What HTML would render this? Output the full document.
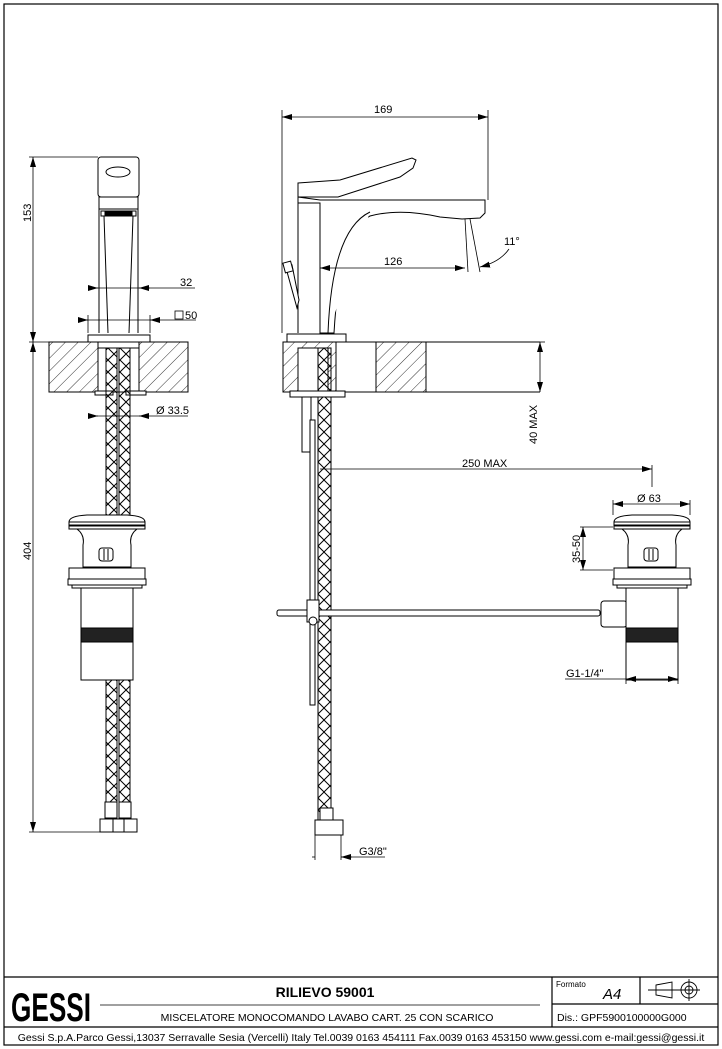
<!DOCTYPE html>
<html><head><meta charset="utf-8"><style>
html,body{margin:0;padding:0;background:#fff}
svg{display:block}
text{font-family:"Liberation Sans",sans-serif;fill:#000}
</style></head><body>
<svg width="722" height="1049" viewBox="0 0 722 1049" xmlns="http://www.w3.org/2000/svg">
<defs>
<pattern id="hatch" patternUnits="userSpaceOnUse" width="9" height="9" patternTransform="rotate(45)">
<line x1="0" y1="0" x2="0" y2="9" stroke="#000" stroke-width="0.8"/>
</pattern>
<pattern id="braid" patternUnits="userSpaceOnUse" width="12" height="12">
<path d="M0 0L12 12M12 0L0 12" stroke="#000" stroke-width="1" fill="none"/>
</pattern>
<marker id="ar" viewBox="0 0 10 6" refX="10" refY="3" markerWidth="10" markerHeight="6" orient="auto-start-reverse" markerUnits="userSpaceOnUse">
<path d="M0 0L10 3L0 6z" fill="#000"/>
</marker>
<g id="drain" fill="#fff" stroke="#000" stroke-width="1">
<path d="M-38 7 Q-38 1 -20 0 L20 0 Q38 1 38 7 Z"/>
<rect x="-38" y="7" width="76" height="3"/>
<rect x="-38" y="11" width="76" height="3"/>
<path d="M-30 14 Q-22 20 -24 30 L-24 52 L24 52 L24 30 Q22 20 30 14 Z"/>
<rect x="-8" y="33" width="14" height="13" rx="3"/>
<line x1="-3" y1="34" x2="-3" y2="45"/><line x1="1" y1="34" x2="1" y2="45"/>
<rect x="-38" y="53" width="76" height="11"/>
<rect x="-39" y="64" width="78" height="6"/>
<rect x="-35" y="70" width="70" height="3"/>
<rect x="-26" y="73" width="52" height="40"/>
<rect x="-26" y="113" width="52" height="14" fill="#222"/>
<rect x="-26" y="127" width="52" height="38"/>
</g>
</defs>

<rect x="4" y="4" width="714" height="1041" fill="none" stroke="#000" stroke-width="1.2"/>

<!-- LEFT VIEW -->
<g stroke="#000" stroke-width="1" fill="#fff">
<rect x="98" y="157" width="41" height="40" rx="3"/>
<ellipse cx="118" cy="172" rx="12" ry="5"/>
<rect x="99" y="197" width="39" height="12"/>
<rect x="101" y="211" width="35" height="5"/>
<rect x="105" y="212" width="27" height="3" fill="#000"/>
<line x1="99" y1="209" x2="99" y2="333"/><line x1="138" y1="209" x2="138" y2="333"/>
<line x1="104" y1="216" x2="108" y2="333"/><line x1="133" y1="216" x2="129" y2="333"/>
<rect x="88" y="335" width="62" height="7"/>
<rect x="49" y="342" width="139" height="50" fill="url(#hatch)"/>
<rect x="98" y="342" width="41" height="50"/>
<rect x="98" y="342" width="41" height="6"/>
<rect x="95" y="391" width="18" height="4"/><rect x="126" y="391" width="20" height="4"/>
<rect x="106" y="348" width="11" height="167" fill="url(#braid)"/>
<rect x="119" y="348" width="11" height="167" fill="url(#braid)"/>
<rect x="106" y="642" width="11" height="160" fill="url(#braid)"/>
<rect x="119" y="642" width="11" height="160" fill="url(#braid)"/>
<rect x="105" y="802" width="12" height="16"/><rect x="119" y="802" width="12" height="16"/>
<rect x="100" y="819" width="13" height="13"/><rect x="113" y="819" width="11" height="13"/><rect x="124" y="819" width="13" height="13"/>
</g>
<use href="#drain" x="107" y="515"/>
<g stroke="#000" stroke-width="0.8" fill="none">
<line x1="29" y1="157" x2="98" y2="157"/>
<line x1="29" y1="342" x2="49" y2="342"/>
<line x1="29" y1="832" x2="100" y2="832"/>
<line x1="33" y1="157" x2="33" y2="342" marker-start="url(#ar)" marker-end="url(#ar)"/>
<line x1="33" y1="342" x2="33" y2="832" marker-start="url(#ar)" marker-end="url(#ar)"/>
<line x1="92" y1="288" x2="195" y2="288"/>
<line x1="92" y1="288" x2="98" y2="288" marker-end="url(#ar)" stroke-width="0.6"/>
<line x1="150" y1="288" x2="139" y2="288" marker-end="url(#ar)"/>
<line x1="80" y1="320" x2="196" y2="320"/>
<line x1="88" y1="315" x2="88" y2="333"/><line x1="150" y1="315" x2="150" y2="333"/>
<line x1="80" y1="320" x2="88" y2="320" marker-end="url(#ar)"/>
<line x1="158" y1="320" x2="150" y2="320" marker-end="url(#ar)"/>
<line x1="89" y1="416" x2="188" y2="416"/>
<line x1="89" y1="416" x2="98" y2="416" marker-end="url(#ar)"/>
<line x1="148" y1="416" x2="139" y2="416" marker-end="url(#ar)"/>
<rect x="175" y="311" width="8" height="8"/>
</g>
<text x="180" y="286" font-size="11">32</text>
<text x="185" y="319" font-size="11">50</text>
<text x="156" y="414" font-size="11">Ø 33.5</text>
<text transform="translate(31,222) rotate(-90)" font-size="11">153</text>
<text transform="translate(31,560) rotate(-90)" font-size="11">404</text>

<!-- MIDDLE VIEW -->
<g stroke="#000" stroke-width="1" fill="#fff">
<path d="M298 183 L340 180 L412 158 L416 160 L413 168 L400 177 L338 197 L298 197 Z"/>
<path d="M298 197 L320 200 L485 200 L485 213 L480 218 L462 219 L440 217 Q400 208 370 216 Q340 230 334 333 L320 333 L320 203 L298 203 Z"/>
<path d="M328 333 Q332 230 370 212"/>
<line x1="298" y1="203" x2="298" y2="333"/>
<path d="M286 268 L292 265 L299 300 L297 308 Z"/>
<rect x="284" y="262" width="8" height="10" transform="rotate(-15 288 267)"/>
<rect x="287" y="334" width="59" height="8"/>
<rect x="283" y="342" width="53" height="50" fill="url(#hatch)"/>
<rect x="376" y="342" width="50" height="50" fill="url(#hatch)"/>
<line x1="336" y1="342" x2="540" y2="342"/><line x1="336" y1="392" x2="540" y2="392"/>
<rect x="298" y="348" width="30" height="44"/>
<rect x="318" y="348" width="13" height="480" fill="url(#braid)"/>
<rect x="290" y="391" width="55" height="6"/>
<rect x="302" y="397" width="9" height="55"/>
<rect x="310" y="420" width="5" height="285"/>
<rect x="277" y="610" width="323" height="6" rx="2"/>
<rect x="307" y="600" width="12" height="22"/>
<circle cx="313" cy="621" r="4"/>
<rect x="320" y="808" width="13" height="12"/>
<rect x="315" y="820" width="28" height="15"/>
</g>
<g stroke="#000" stroke-width="1" fill="#fff">
<path d="M627 605 Q638 614 627 630"/>
<rect x="601" y="601" width="26" height="26" rx="3"/>
</g>
<use href="#drain" x="652" y="515"/>
<g stroke="#000" stroke-width="0.8" fill="none">
<line x1="282" y1="110" x2="282" y2="333"/>
<line x1="488" y1="110" x2="488" y2="200"/>
<line x1="282" y1="117" x2="488" y2="117" marker-start="url(#ar)" marker-end="url(#ar)"/>
<line x1="320" y1="268" x2="465" y2="268" marker-start="url(#ar)" marker-end="url(#ar)"/>
<line x1="465" y1="219" x2="468" y2="272"/>
<line x1="470" y1="219" x2="480" y2="272"/>
<path d="M509 249 Q500 262 480 267" marker-end="url(#ar)"/>
<line x1="540" y1="342" x2="540" y2="392" marker-start="url(#ar)" marker-end="url(#ar)"/>
<line x1="540" y1="342" x2="545" y2="342"/>
<line x1="320" y1="469" x2="652" y2="469" marker-end="url(#ar)"/>
<line x1="652" y1="465" x2="652" y2="487"/>
<line x1="613" y1="504" x2="690" y2="504" marker-start="url(#ar)" marker-end="url(#ar)"/>
<line x1="613" y1="500" x2="613" y2="515"/><line x1="690" y1="500" x2="690" y2="515"/>
<line x1="583" y1="527" x2="583" y2="570" marker-start="url(#ar)" marker-end="url(#ar)"/>
<line x1="580" y1="527" x2="613" y2="527"/><line x1="580" y1="570" x2="613" y2="570"/>
<line x1="565" y1="679" x2="626" y2="679"/>
<line x1="626" y1="679" x2="678" y2="679" marker-start="url(#ar)" marker-end="url(#ar)"/>
<line x1="626" y1="670" x2="626" y2="684"/><line x1="678" y1="670" x2="678" y2="684"/>
<line x1="315" y1="835" x2="315" y2="860"/><line x1="341" y1="835" x2="341" y2="860"/>
<line x1="312" y1="857" x2="315" y2="857"/>
<line x1="352" y1="857" x2="341" y2="857" marker-end="url(#ar)"/>
<line x1="341" y1="857" x2="385" y2="857"/>
</g>
<text x="374" y="113" font-size="11">169</text>
<text x="384" y="265" font-size="11">126</text>
<text x="504" y="245" font-size="11">11°</text>
<text transform="translate(537,444) rotate(-90)" font-size="11">40 MAX</text>
<text x="462" y="467" font-size="11">250 MAX</text>
<text x="637" y="502" font-size="11">Ø 63</text>
<text transform="translate(580,563) rotate(-90)" font-size="11">35-50</text>
<text x="566" y="677" font-size="11">G1-1/4"</text>
<text x="359" y="855" font-size="11">G3/8"</text>

<!-- TITLE BLOCK -->
<g stroke="#000" stroke-width="1.2" fill="none">
<line x1="4" y1="977" x2="718" y2="977"/>
<line x1="4" y1="1027" x2="718" y2="1027"/>
<line x1="552" y1="977" x2="552" y2="1027"/>
<line x1="640" y1="977" x2="640" y2="1004"/>
<line x1="552" y1="1004" x2="718" y2="1004"/>
<line x1="100" y1="1005" x2="540" y2="1005" stroke-width="0.8"/>
</g>
<text x="11" y="1021" font-size="40" font-weight="bold" textLength="80" lengthAdjust="spacingAndGlyphs">GESSI</text>
<text x="325" y="997" font-size="14" font-weight="bold" text-anchor="middle">RILIEVO 59001</text>
<text x="327" y="1021" font-size="10.5" text-anchor="middle">MISCELATORE MONOCOMANDO LAVABO CART. 25 CON SCARICO</text>
<text x="556" y="987" font-size="8">Formato</text>
<text x="603" y="999" font-size="15" font-style="italic">A4</text>
<text x="557" y="1021" font-size="10.5">Dis.: GPF5900100000G000</text>
<text x="361" y="1041" font-size="10.5" text-anchor="middle">Gessi S.p.A.Parco Gessi,13037 Serravalle Sesia (Vercelli) Italy Tel.0039 0163 454111 Fax.0039 0163 453150 www.gessi.com e-mail:gessi@gessi.it</text>
<g stroke="#000" stroke-width="0.9" fill="none">
<path d="M656 985 L672 982 L672 998 L656 995 Z"/>
<line x1="648" y1="990" x2="680" y2="990"/>
<circle cx="689" cy="990" r="8"/><circle cx="689" cy="990" r="4"/>
<line x1="678" y1="990" x2="700" y2="990"/><line x1="689" y1="979" x2="689" y2="1001"/>
</g>
</svg>
</body></html>
